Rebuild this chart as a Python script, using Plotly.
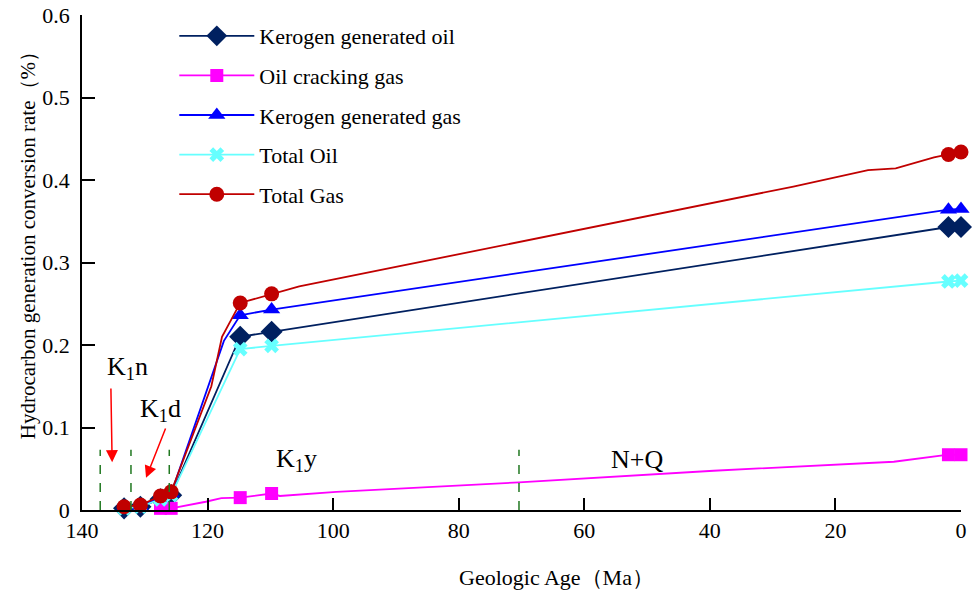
import plotly.graph_objects as go

# ---------------- data ----------------
sample_age = [133.3, 130.7, 127.5, 125.8, 114.8, 109.8, 2.0, 0.0]

kerogen_oil = [0.002, 0.004, 0.013, 0.018, 0.210, 0.216, 0.343, 0.343]
oil_crack_gas = [None, None, 0.002, 0.002, 0.015, 0.020, 0.067, 0.067]
kerogen_gas = [0.003, 0.005, 0.015, 0.020, 0.236, 0.243, 0.364, 0.365]
total_oil = [0.002, 0.004, 0.013, 0.018, 0.195, 0.199, 0.277, 0.278]
total_gas = [0.004, 0.006, 0.017, 0.022, 0.251, 0.262, 0.431, 0.434]

# intermediate (unmarked) bend points of each curve
kerogen_oil_bend_age, kerogen_oil_bend = [], []
oil_crack_gas_bend_age = [120.3, 117.8, 108.5, 99.5, 70.4, 60.7, 39.4, 10.7]
oil_crack_gas_bend = [0.010, 0.0145, 0.017, 0.022, 0.0335, 0.038, 0.0476, 0.0585]
kerogen_gas_bend_age = [117.4]
kerogen_gas_bend = [0.205]
total_oil_bend_age, total_oil_bend = [], []
total_gas_bend_age = [119.4, 117.7, 105.4, 26.7, 14.8, 10.4, 4.3]
total_gas_bend = [0.150, 0.210, 0.271, 0.392, 0.412, 0.414, 0.4275]

series_names = ["Kerogen generated oil", "Oil cracking gas", "Kerogen generated gas",
                "Total Oil", "Total Gas"]

stage_bounds = [137.1, 132.2, 126.1, 70.4]
stage_line_top = 0.073
stage_labels = ["K<sub>1</sub>n", "K<sub>1</sub>d", "K<sub>1</sub>y", "N+Q"]
stage_label_age = [132.7, 127.5, 105.8, 51.6]
stage_label_val = [0.172, 0.121, 0.061, 0.061]

x_ticks = [140, 120, 100, 80, 60, 40, 20, 0]
y_ticks = [0, 0.1, 0.2, 0.3, 0.4, 0.5, 0.6]

# ---------------- styles ----------------
styles = [
    dict(color="#002060", symbol="diamond", size=17),
    dict(color="#FF00FF", symbol="square", size=13),
    dict(color="#0000FF", symbol="triangle-up", size=15),
    dict(color="#66FFFF", symbol="x", size=13),
    dict(color="#C00000", symbol="circle", size=15),
]
values = [kerogen_oil, oil_crack_gas, kerogen_gas, total_oil, total_gas]
bends = [(kerogen_oil_bend_age, kerogen_oil_bend),
         (oil_crack_gas_bend_age, oil_crack_gas_bend),
         (kerogen_gas_bend_age, kerogen_gas_bend),
         (total_oil_bend_age, total_oil_bend),
         (total_gas_bend_age, total_gas_bend)]

SERIF = "Liberation Serif"
fig = go.Figure()

for name, vals, (bage, bval), st in zip(series_names, values, bends, styles):
    pts = [(a, v) for a, v in zip(sample_age, vals) if v is not None] + list(zip(bage, bval))
    pts.sort(key=lambda p: -p[0])
    # full curve
    fig.add_trace(go.Scatter(
        x=[p[0] for p in pts], y=[p[1] for p in pts], mode="lines",
        line=dict(color=st["color"], width=1.8), showlegend=False,
        legendgroup=name, hoverinfo="skip", cliponaxis=False))
    # sample markers
    fig.add_trace(go.Scatter(
        x=sample_age, y=vals, mode="markers", name=name, showlegend=False,
        legendgroup=name, cliponaxis=False,
        marker=dict(symbol=st["symbol"], size=st["size"], color=st["color"],
                    opacity=1, line=dict(width=0))))

# legend entries
for name, st in zip(series_names, styles):
    fig.add_trace(go.Scatter(
        x=[None], y=[None], mode="lines+markers", name=name, legendgroup=name,
        line=dict(color=st["color"], width=1.8),
        marker=dict(symbol=st["symbol"], size=st["size"], color=st["color"],
                    line=dict(width=0))))

shapes = []
for b in stage_bounds:
    shapes.append(dict(type="line", xref="x", yref="y", x0=b, x1=b, y0=0,
                       y1=stage_line_top,
                       line=dict(color="#217821", width=1.5, dash="dash")))

annotations = []
for t, a, v in zip(stage_labels, stage_label_age, stage_label_val):
    annotations.append(dict(x=a, y=v, xref="x", yref="y", text=t, showarrow=False,
                            font=dict(family=SERIF, size=26, color="black")))
# red arrows
annotations.append(dict(x=135.2, y=0.058, ax=135.4, ay=0.149, xref="x", yref="y",
                        axref="x", ayref="y", text="", showarrow=True, arrowhead=2,
                        arrowsize=1.6, arrowwidth=1.5, arrowcolor="#FF0000"))
annotations.append(dict(x=129.8, y=0.039, ax=126.6, ay=0.1006, xref="x", yref="y",
                        axref="x", ayref="y", text="", showarrow=True, arrowhead=2,
                        arrowsize=1.6, arrowwidth=1.5, arrowcolor="#FF0000"))
# axis titles
annotations.append(dict(x=0.540, y=-0.137, xref="paper", yref="paper",
                        xanchor="center", yanchor="middle",
                        text="Geologic Age（Ma）", showarrow=False,
                        font=dict(family=SERIF, size=22, color="black")))
annotations.append(dict(x=-0.0614, y=0.545, xref="paper", yref="paper",
                        xanchor="center", yanchor="middle",
                        text="Hydrocarbon generation conversion rate（%）", textangle=-90,
                        showarrow=False, font=dict(family=SERIF, size=21, color="black")))

fig.update_layout(
    width=972, height=582,
    margin=dict(l=74, r=19, t=7, b=80, autoexpand=False),
    paper_bgcolor="white", plot_bgcolor="white",
    font=dict(family=SERIF, size=22, color="black"),
    showlegend=True,
    legend=dict(x=0.105, y=1.0, xanchor="left", yanchor="top",
                bgcolor="rgba(0,0,0,0)", font=dict(family=SERIF, size=22, color="black"),
                itemwidth=75, tracegroupgap=8, traceorder="grouped"),
    shapes=shapes, annotations=annotations,
    xaxis=dict(range=[140, 0], tickvals=x_ticks, ticks="inside", ticklen=12,
               tickwidth=1.5, tickcolor="black", showline=True, linecolor="black",
               linewidth=1.5, showgrid=False, zeroline=False, ticklabeloverflow="allow",
               automargin=False,
               tickfont=dict(family=SERIF, size=22, color="black")),
    yaxis=dict(range=[0, 0.6], tickvals=y_ticks, ticks="inside", ticklen=13,
               tickwidth=1.5, tickcolor="black", showline=True, linecolor="black",
               linewidth=1.5, showgrid=False, zeroline=False, ticklabelstandoff=6,
               ticklabeloverflow="allow", automargin=False,
               tickfont=dict(family=SERIF, size=22, color="black")),
)

fig.write_html("out.html")
